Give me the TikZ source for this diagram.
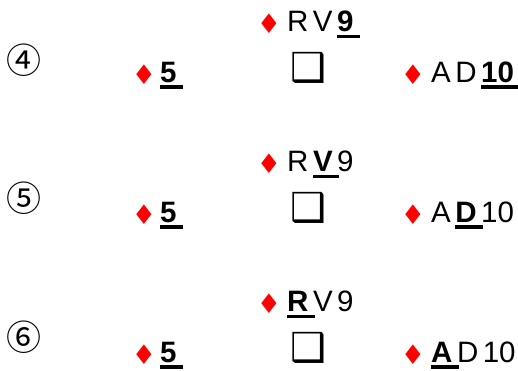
\documentclass[tikz,border=0pt]{standalone}
\usepackage{fontspec}
\setmainfont{Liberation Sans}
\newfontfamily\dejavu{DejaVu Sans}
\newfontfamily\cjkjp{Noto Sans CJK JP}
\usetikzlibrary{positioning}
\definecolor{suitred}{HTML}{FF0000}
% bold card with thick bar under it
\newcommand\lead[1]{\setbox0\hbox{\bfseries #1}\rlap{\rule[-6.5pt]{\dimexpr\wd0+6pt\relax}{3.5pt}}\box0\relax}

\begin{document}
\begin{tikzpicture}[x=1pt,y=-1pt]
\tikzset{
  hand/.style={inner sep=0pt,font=\fontsize{29.5}{29.5}\selectfont,
    execute at begin node={\spaceskip=4.5pt\relax}},
  pip/.style={inner sep=0pt,text=suitred,font=\dejavu\fontsize{27}{27}\selectfont},
  trick/.style={inner sep=0pt,text depth=0pt,font=\dejavu\fontsize{40}{40}\selectfont},
  badge/.style={inner sep=0pt,font=\cjkjp\fontsize{35}{35}\selectfont}
}
\useasboundingbox (0,0) rectangle (518,370);
\foreach \k/\no/\uprow/\rhrow in {0/④/{R V \lead{9}}/{A D \lead{10}},
                                  1/⑤/{R \lead{V} 9}/{A \lead{D} 10},
                                  2/⑥/{\lead{R} V 9}/{\lead{A} D 10}}{
  \pgfmathsetmacro\dy{140*\k}
  \node[badge] (no\k) at (23.5,{60+138.5*\k}) {\no};
  % north hand
  \node[pip] (pn\k) at (269,23.5+\dy) {♦};
  \node[hand,anchor=base west] (north\k) at (287,31.7+\dy) {\uprow};
  % west hand
  \node[pip] (pw\k) at (144,74.5+\dy) {♦};
  \node[hand,anchor=base west] (west\k) at (160,82+\dy) {\lead{5}};
  % east hand
  \node[pip] (pe\k) at (413,74.5+\dy) {♦};
  \node[hand,anchor=base west] (east\k) at (431,82+\dy) {\rhrow};
  % south
  \node[trick,anchor=base] (south\k) at (308,81+\dy) {❑};
}
\end{tikzpicture}
\end{document}
